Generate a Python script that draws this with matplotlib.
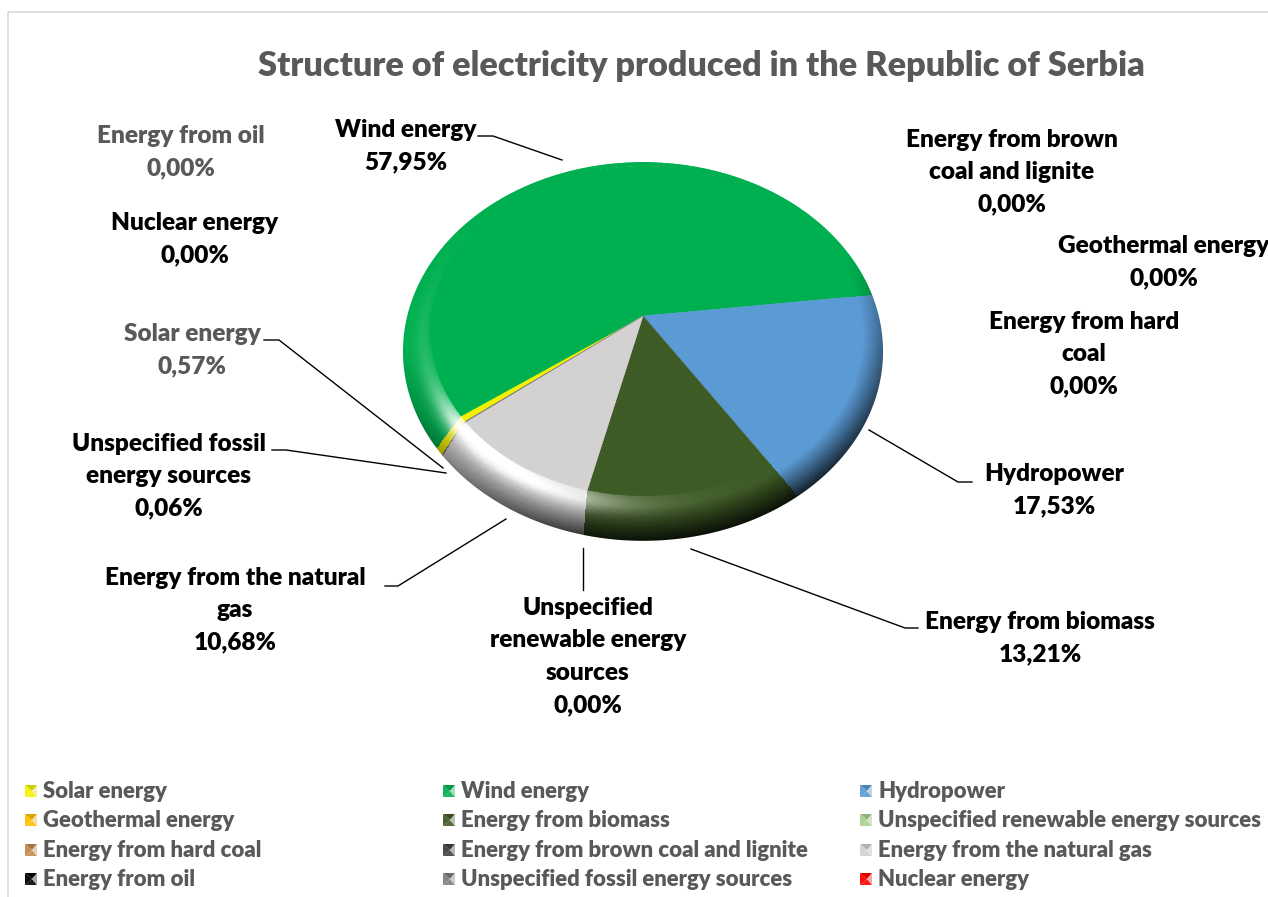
import numpy as np
import matplotlib
matplotlib.use("Agg")
import matplotlib.pyplot as plt
from matplotlib.colors import to_rgb
from matplotlib.path import Path
from matplotlib.patches import PathPatch

plt.rcParams['font.family'] = ['Lato', 'DejaVu Sans']

categories = ["Solar energy", "Wind energy", "Hydropower",
              "Geothermal energy", "Energy from biomass", "Unspecified renewable energy sources",
              "Energy from hard coal", "Energy from brown coal and lignite", "Energy from the natural gas",
              "Energy from oil", "Unspecified fossil energy sources", "Nuclear energy"]
shares = [0.57, 57.95, 17.53, 0.00, 13.21, 0.00, 0.00, 0.00, 10.68, 0.00, 0.06, 0.00]
colors = ["#F5F000", "#00B050", "#5B9BD5", "#FFC000", "#3E5B26", "#A9D18E",
          "#C58A4E", "#404040", "#D3D1D2", "#000000", "#7F7F7F", "#FF0000"]

title = "Structure of electricity produced in the Republic of Serbia"

# label name as wrapped on the chart, centre x, y of first line, colour
label_layout = {
    "Energy from oil": (["Energy from oil"], 181, 136, "#595959"),
    "Wind energy": (["Wind energy"], 406, 130, "black"),
    "Energy from brown coal and lignite": (["Energy from brown", "coal and lignite"], 1012, 140, "black"),
    "Geothermal energy": (["Geothermal energy"], 1164, 246, "black"),
    "Nuclear energy": (["Nuclear energy"], 195, 223, "black"),
    "Energy from hard coal": (["Energy from hard", "coal"], 1084, 322, "black"),
    "Solar energy": (["Solar energy"], 192, 334, "#595959"),
    "Unspecified fossil energy sources": (["Unspecified fossil", "energy sources"], 169, 444, "black"),
    "Hydropower": (["Hydropower"], 1054, 474, "black"),
    "Energy from the natural gas": (["Energy from the natural", "gas"], 235, 578, "black"),
    "Unspecified renewable energy sources": (["Unspecified", "renewable energy", "sources"], 588, 608, "black"),
    "Energy from biomass": (["Energy from biomass"], 1040, 622, "black"),
}

leaders = [
    [(478, 136), (493, 136), (562, 160)],
    [(264, 340), (279, 340), (443, 468)],
    [(272, 450), (286, 450), (446, 473)],
    [(385, 586), (398, 586), (506, 519)],
    [(583, 590), (583, 548)],
    [(918, 628), (905, 628), (691, 549)],
    [(972, 482), (958, 482), (869, 430)],
]

# perspective of the disc
cx, cy = 643, 316
a, b, k = 235.8, 182.8, 0.187
start_angle = 232.6
inner_r = 0.9
shift = 0.07


def project(u, v):
    w = 1 + k * v
    return cx + a * u / w, cy - b * v / w


def rim_point(theta, t):
    rho = shift * np.cos(theta) + np.sqrt(inner_r ** 2 - (shift * np.sin(theta)) ** 2)
    r = rho + (1 - rho) * t
    # lower left part of the rim leans towards the bottom
    bend = np.radians(9.0) * np.minimum(np.sin(theta), 0) * np.clip(-np.cos(theta), 0, 1)
    th = theta + bend * t
    return project(r * np.sin(th), r * np.cos(th))


def shade(base, theta_deg, t):
    base = np.array(to_rgb(base))
    d = (theta_deg - 222 + 180) % 360 - 180
    width = np.where(d > 0, 18.0, 30.0)
    light = 1.3 * np.exp(-(d / width) ** 2) * np.exp(-((t - 0.2) / 0.3) ** 2)
    light = light + 0.12 * np.exp(-((d - 30) / 30.0) ** 2) * np.exp(-((t - 0.3) / 0.3) ** 2)
    light = np.clip(light, 0, 1)
    dark_side = np.clip(np.cos(np.radians(theta_deg - 165)) * 0.75 + 0.08, 0, 0.9)
    dark = dark_side * np.clip((t - 0.25) / 0.75, 0, 1) ** 1.1
    out = base[None, None, :] * (1 - light[..., None]) + light[..., None]
    return out * (1 - dark[..., None])


fig = plt.figure(figsize=(12.68, 8.97), dpi=100)
ax = fig.add_axes([0, 0, 1, 1])
ax.set_xlim(0, 1268)
ax.set_ylim(897, 0)
ax.axis("off")

# chart frame
ax.plot([1268, 8, 8], [12, 12, 897], color="#D9D9D9", lw=1.2)

ax.text(701, 66, title, ha="center", va="center", fontsize=24.65, fontweight=800, color="#595959")

# pie slices, clockwise from the first category
start = start_angle
for share, color in zip(shares, colors):
    sweep = share / sum(shares) * 360
    if sweep == 0:
        continue
    n = max(int(sweep * 2), 2)
    th_deg = np.linspace(start, start + sweep, n + 1)
    th = np.radians(th_deg)

    ts = np.linspace(-0.02, 1.03, 40)
    T, TH = np.meshgrid(ts, th)
    X, Y = rim_point(TH, T)
    mid_t = (T[:-1, :-1] + T[1:, 1:]) / 2
    mid_th = (TH[:-1, :-1] + TH[1:, 1:]) / 2
    C = np.clip(shade(color, np.degrees(mid_th) % 360, mid_t), 0, 1)
    ax.pcolormesh(X, Y, C, shading="flat", antialiased=False, zorder=2)

    xs, ys = rim_point(th, 0.0)
    ax.fill(np.r_[cx, xs], np.r_[cy, ys], color=color, lw=0.4, zorder=3)
    start += sweep

# white mask outside the disc, smooths the outer edge of the rim
ring = np.radians(np.linspace(360, 0, 721))
ox, oy = project(np.sin(ring), np.cos(ring))
x0, x1, y0, y1 = ox.min() - 6, ox.max() + 6, oy.min() - 6, oy.max() + 6
verts = np.r_[[[x0, y0], [x1, y0], [x1, y1], [x0, y1], [x0, y0]], np.c_[ox, oy]]
codes = [Path.MOVETO] + [Path.LINETO] * 3 + [Path.CLOSEPOLY] + [Path.MOVETO] + [Path.LINETO] * (len(ox) - 1)
ax.add_patch(PathPatch(Path(verts, codes), facecolor="white", edgecolor="none", zorder=3.5))

for line in leaders:
    ax.plot(*zip(*line), color="black", lw=1.0, zorder=4)

line_h = 32.3
for name, share in zip(categories, shares):
    lines, x, y, col = label_layout[name]
    for i, s in enumerate(lines + [f"{share:.2f}".replace(".", ",") + "%"]):
        ax.text(x, y + i * line_h, s, ha="center", va="center", fontsize=17.6,
                fontweight=800, color=col, zorder=5, clip_on=True)

# legend, three columns
col_x = [25, 443, 860]
row_y = [791, 820, 850, 879]
for i, (name, color) in enumerate(zip(categories, colors)):
    x = col_x[i % 3]
    y = row_y[i // 3]
    h = 6
    c = np.array(to_rgb(color))
    xc = x + h + 1
    tris = [
        ([x, x + 2 * h, xc], [y - h, y - h, y], c * 0.85),
        ([x, x, xc], [y - h, y + h, y], c * 0.95 + 0.05),
        ([x, x + 2 * h, xc], [y + h, y + h, y], c * 0.9 + 0.1),
        ([x + 2 * h, x + 2 * h, xc], [y - h, y + h, y], c * 0.3 + 0.65),
    ]
    for px, py, pc in tris:
        ax.fill(px, py, color=np.clip(pc, 0, 1), lw=0)
    ax.text(x + 18, y + 0.5, name, ha="left", va="center", fontsize=15.9, fontweight=800, color="#595959")

fig.savefig("out.png", dpi=100)
